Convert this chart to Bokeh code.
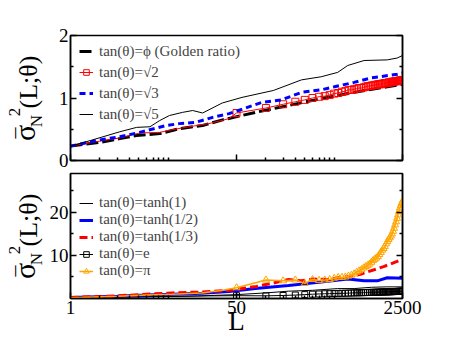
from bokeh.plotting import figure
from bokeh.models import (Range1d, FixedTicker, LinearAxis, Legend, LegendItem, Div,
                          PrintfTickFormatter)
from bokeh.layouts import column, row
from bokeh.embed import file_html
from bokeh.resources import INLINE

FONT = "Liberation Serif"

# ---------------- axes / ticks ----------------
x_ticks = [1, 50, 2500]
x_minor = [2, 3, 4, 5, 6, 7, 8, 9, 10, 100, 150, 200, 250, 300, 350, 400, 450, 500]
top_yticks = [0, 1, 2]
top_yminor = [0.5, 1.5]
bot_yticks = [10, 20]
bot_yminor = [5, 15, 25]

# sampling positions of the marked series (every 50)
L_marks = list(range(50, 2501, 50))

# ---------------- top panel data ----------------
L_golden = [1, 2, 3.2, 4.75, 8.2, 13, 22.5, 36, 53, 78, 170, 368, 800, 1746, 2500]
golden = [0.23, 0.29, 0.35, 0.40, 0.43, 0.51, 0.56, 0.65, 0.71, 0.77, 0.88, 0.99, 1.09, 1.18, 1.22]

L_sqrt2_head = [1, 2, 3.2, 5.1, 8.2, 10, 15, 26, 42]
sqrt2_head = [0.23, 0.31, 0.36, 0.44, 0.45, 0.48, 0.53, 0.59, 0.67]
sqrt2_marks = [0.76, 0.84, 0.90, 0.94, 0.97, 1.00, 1.02, 1.03, 1.05, 1.07,
               1.08, 1.10, 1.11, 1.13, 1.13, 1.14, 1.15, 1.16, 1.16, 1.17,
               1.18, 1.19, 1.19, 1.20, 1.20, 1.21, 1.21, 1.22, 1.22, 1.22,
               1.23, 1.23, 1.24, 1.24, 1.24, 1.25, 1.25, 1.25, 1.26, 1.26,
               1.26, 1.27, 1.27, 1.27, 1.27, 1.28, 1.28, 1.28, 1.28, 1.29]

L_sqrt3 = [1, 2, 3.2, 5.1, 9.6, 13, 19, 28.5, 42, 57, 91, 144, 231, 368, 504, 800, 1182, 2209, 2500]
sqrt3 = [0.23, 0.33, 0.38, 0.45, 0.56, 0.59, 0.61, 0.69, 0.75, 0.82, 0.93, 0.97, 1.09, 1.13, 1.18,
         1.25, 1.32, 1.38, 1.40]

L_sqrt5 = [1, 1.6, 3.2, 4.75, 6.5, 8.2, 10.3, 14, 17.8, 22.5, 35.7, 57, 91, 119, 231, 368, 543,
           687, 1012, 1746, 2209, 2500]
sqrt5 = [0.23, 0.32, 0.46, 0.53, 0.54, 0.64, 0.72, 0.77, 0.80, 0.76, 0.92, 1.01, 1.08, 1.12, 1.29,
         1.34, 1.41, 1.52, 1.60, 1.61, 1.64, 1.68]

# ---------------- bottom panel data ----------------
L_tanh1 = [1, 5, 20, 50, 100, 170, 300, 543, 800, 1200, 1700, 2500]
tanh1 = [0.25, 0.4, 0.6, 0.9, 1.3, 1.7, 1.9, 2.3, 2.3, 2.6, 2.7, 2.7]

L_tanh2 = [1, 3, 6, 11, 22, 42, 78, 170, 368, 687, 1012, 1380, 1746, 2500]
tanh2 = [0.25, 0.5, 0.8, 1.0, 1.2, 1.6, 2.3, 3.0, 3.8, 4.5, 4.1, 4.1, 4.8, 4.7]

L_tanh3 = [1, 3, 6, 11, 22, 42, 80, 120, 170, 230, 300, 430, 550, 800, 930, 1100, 1380, 1600,
           1890, 2200, 2500]
tanh3 = [0.25, 0.6, 1.0, 1.3, 1.5, 1.9, 2.8, 3.6, 4.4, 4.1, 4.5, 4.4, 4.8, 5.3, 5.6, 6.2, 6.9,
         7.4, 8.0, 8.6, 9.2]

L_e_head = [1, 3, 10, 25]
e_head = [0.2, 0.3, 0.45, 0.6]
e_marks = [0.65, 0.62, 0.70, 0.80, 0.90, 1.00, 1.05, 1.10, 1.12, 1.15,
           1.18, 1.20, 1.22, 1.25, 1.28, 1.30, 1.32, 1.33, 1.35, 1.36,
           1.38, 1.40, 1.41, 1.42, 1.43, 1.45, 1.46, 1.47, 1.48, 1.50,
           1.51, 1.52, 1.53, 1.54, 1.55, 1.56, 1.57, 1.58, 1.59, 1.60,
           1.61, 1.62, 1.63, 1.64, 1.65, 1.66, 1.67, 1.68, 1.69, 1.70]

L_pi_head = [1, 3, 6, 11, 22, 36]
pi_head = [0.2, 0.5, 0.8, 1.0, 1.3, 1.9]
pi_marks = [2.5, 4.3, 4.1, 4.3, 3.5, 4.4, 4.2, 4.3, 4.4, 4.7,
            4.9, 4.9, 5.0, 5.2, 5.4, 5.7, 6.1, 6.4, 6.7, 7.1,
            7.4, 7.7, 8.0, 8.4, 8.8, 9.1, 9.4, 9.7, 10.2, 10.7,
            11.2, 11.6, 12.1, 12.7, 13.2, 13.7, 14.1, 14.5, 15.0, 15.6,
            16.3, 17.1, 17.8, 18.6, 19.4, 20.2, 21.0, 21.6, 22.1, 22.6]

STRIP_W = 46
TOP_H = 170
BOT_H = 176


def style_axis(ax, ticks, minor, show_labels):
    ax.ticker = FixedTicker(ticks=ticks, minor_ticks=minor)
    ax.major_tick_in = 6
    ax.major_tick_out = 0
    ax.minor_tick_in = 3
    ax.minor_tick_out = 0
    ax.major_tick_line_width = 1.5
    ax.minor_tick_line_width = 1.5
    ax.axis_line_width = 1.5
    ax.axis_line_color = "black"
    ax.major_tick_line_color = "black"
    ax.minor_tick_line_color = "black"
    ax.formatter = PrintfTickFormatter(format="%d")
    ax.major_label_text_font = FONT
    if show_labels:
        ax.major_label_text_color = "black"
        ax.major_label_text_font_size = "19px"
        ax.major_label_standoff = 2
    else:
        ax.major_label_text_color = None
        ax.major_label_text_alpha = 0
        ax.major_label_text_font_size = "1px"
        ax.major_label_standoff = 0


def make_fig(height, ymax, yticks, yminor, btop, bbottom, xlabels):
    p = figure(width=422 - STRIP_W, height=height, x_axis_type="log",
               x_range=Range1d(1, 2500), y_range=Range1d(0, ymax),
               output_backend="svg", toolbar_location=None,
               min_border_left=67 - STRIP_W, min_border_right=20,
               min_border_top=btop, min_border_bottom=bbottom)
    p.grid.visible = False
    p.outline_line_color = "black"
    p.outline_line_width = 1.5
    p.background_fill_color = "white"
    p.border_fill_color = "white"
    style_axis(p.xaxis[0], x_ticks, x_minor, xlabels)
    style_axis(p.yaxis[0], yticks, yminor, True)
    right = LinearAxis()
    style_axis(right, yticks, yminor, False)
    p.add_layout(right, "right")
    return p


# ---------------- top figure ----------------
p1 = make_fig(TOP_H, 2, top_yticks, top_yminor, 35, 10, False)
r_g = p1.line(L_golden, golden, line_color="black", line_width=3, line_dash="12 4")
r_s2 = p1.line(L_sqrt2_head + L_marks, sqrt2_head + sqrt2_marks, line_color="red", line_width=1)
m_s2 = p1.scatter(L_marks, sqrt2_marks, marker="square", size=7, line_color="red",
                  fill_color=None, line_width=1)
r_s3 = p1.line(L_sqrt3, sqrt3, line_color="blue", line_width=3, line_dash="6 4")
r_s5 = p1.line(L_sqrt5, sqrt5, line_color="black", line_width=1)

leg1 = Legend(items=[
    LegendItem(label="tan(θ)=ϕ (Golden ratio)", renderers=[r_g]),
    LegendItem(label="tan(θ)=√2", renderers=[r_s2, m_s2]),
    LegendItem(label="tan(θ)=√3", renderers=[r_s3]),
    LegendItem(label="tan(θ)=√5", renderers=[r_s5]),
], location=(9, 36), padding=0, margin=0, spacing=1, glyph_width=14, glyph_height=20,
    label_height=20, label_standoff=6, label_text_font=FONT, label_text_font_size="15px",
    background_fill_alpha=0, border_line_color=None)
p1.add_layout(leg1)

# ---------------- bottom figure ----------------
p2 = make_fig(BOT_H, 29, bot_yticks, bot_yminor, 3, 48, True)
r_t1 = p2.line(L_tanh1, tanh1, line_color="black", line_width=1)
r_e = p2.line(L_e_head + L_marks, e_head + e_marks, line_color="black", line_width=1)
m_e = p2.scatter(L_marks, e_marks, marker="square", size=6, line_color="black",
                 fill_color=None, line_width=1)
r_t2 = p2.line(L_tanh2, tanh2, line_color="blue", line_width=3)
r_t3 = p2.line(L_tanh3, tanh3, line_color="red", line_width=3, line_dash="8 4")
r_pi = p2.line(L_pi_head + L_marks, pi_head + pi_marks, line_color="orange", line_width=1.5)
m_pi = p2.scatter(L_marks, pi_marks, marker="triangle", size=7, line_color="orange",
                  fill_color=None, line_width=1)

leg2 = Legend(items=[
    LegendItem(label="tan(θ)=tanh(1)", renderers=[r_t1]),
    LegendItem(label="tan(θ)=tanh(1/2)", renderers=[r_t2]),
    LegendItem(label="tan(θ)=tanh(1/3)", renderers=[r_t3]),
    LegendItem(label="tan(θ)=e", renderers=[r_e, m_e]),
    LegendItem(label="tan(θ)=π", renderers=[r_pi, m_pi]),
], location=(9, 19), padding=0, margin=0, spacing=-2, glyph_width=14, glyph_height=16,
    label_height=16, label_standoff=6, label_text_font=FONT, label_text_font_size="15px",
    background_fill_alpha=0, border_line_color=None)
p2.add_layout(leg2)

p2.xaxis[0].axis_label = "L"
p2.xaxis[0].axis_label_text_font = FONT
p2.xaxis[0].axis_label_text_font_size = "27px"
p2.xaxis[0].axis_label_text_font_style = "normal"
p2.xaxis[0].axis_label_text_color = "black"
p2.xaxis[0].axis_label_standoff = -11

# ---------------- strip holding the rotated y-axis titles (HTML text) ----------------
total_h = TOP_H + BOT_H


def ylabel_html(center_y):
    # (text, baseline x px, offset px from the panel's vertical centre, font size px)
    parts = [
        ("(L;θ)", 37.3, -16, 26),
        ("σ", 35, 35, 30),
        ("–", 21.8, 35, 22),
        ("N", 42, 23, 17),
        ("2", 20, 14, 17),
    ]
    out = []
    for txt, bx, dy, fs in parts:
        cx = bx - 0.3375 * fs
        cy = center_y + dy
        out.append(
            f'<span style="position:absolute;left:{cx:.1f}px;top:{cy:.1f}px;'
            f'font-size:{fs}px;line-height:1;white-space:nowrap;'
            f'transform:translate(-50%,-50%) rotate(-90deg);">{txt}</span>')
    return "".join(out)


html = (f'<div style="position:relative;width:{STRIP_W}px;height:{total_h}px;'
        f'font-family:\'{FONT}\';color:black;">'
        + ylabel_html(35 + 125 / 2.0) + ylabel_html(TOP_H + 3 + 125 / 2.0) + '</div>')
strip = Div(text=html, width=STRIP_W, height=total_h, margin=(0, 0, 0, 0))

layout = row(strip, column(p1, p2, spacing=0), spacing=0)
open("out.html", "w").write(file_html(layout, INLINE))
